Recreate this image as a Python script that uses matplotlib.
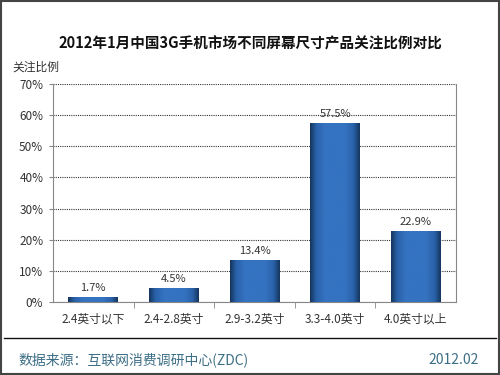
import numpy as np
import matplotlib
matplotlib.use('Agg')
import matplotlib.pyplot as plt
from matplotlib.colors import LinearSegmentedColormap
from matplotlib.patches import Rectangle
from matplotlib.lines import Line2D

plt.rcParams['font.family'] = ['Noto Sans CJK SC', 'DejaVu Sans']

# data
categories = ['2.4英寸以下', '2.4-2.8英寸', '2.9-3.2英寸', '3.3-4.0英寸', '4.0英寸以上']
values = [1.7, 4.5, 13.4, 57.5, 22.9]
labels = ['1.7%', '4.5%', '13.4%', '57.5%', '22.9%']
yticks = [0, 10, 20, 30, 40, 50, 60, 70]

title = '2012年1月中国3G手机市场不同屏幕尺寸产品关注比例对比'
source = '数据来源：互联网消费调研中心(ZDC)'
date = '2012.02'

fig = plt.figure(figsize=(5, 3.75), dpi=100)
ax = fig.add_axes([0.106, 0.195, 0.806, 0.581])

x = np.arange(len(categories))
bars = ax.bar(x, values, width=0.62, color='#2f68b4', zorder=2)

# horizontal gradient on each bar (dark edges, mostly flat centre)
cmap = LinearSegmentedColormap.from_list(
    'bar', [(0, '#15365f'), (0.12, '#2a62aa'), (0.3, '#3573c1'), (0.7, '#3573c1'),
            (0.88, '#2a62aa'), (1, '#15365f')])
grad = np.linspace(0, 1, 64).reshape(1, -1)
for b in bars:
    x0, y0 = b.get_x(), b.get_y()
    w, h = b.get_width(), b.get_height()
    im = ax.imshow(grad, cmap=cmap, aspect='auto', extent=(x0, x0 + w, y0, y0 + h),
                   zorder=3, interpolation='bicubic')
    im.set_clip_path(b)

for xi, v, lab in zip(x, values, labels):
    ax.text(xi, v + 1.2, lab, ha='center', va='bottom', fontsize=8, color='#333333')

ax.set_xlim(-0.5, len(categories) - 0.5)
ax.set_ylim(0, 70)
ax.set_yticks(yticks)
ax.set_yticklabels([f'{t}%' for t in yticks], fontsize=8.5, color='#333333')
ax.set_xticks(x)
ax.set_xticklabels(categories, fontsize=8.5, color='#333333')
ax.tick_params(axis='x', length=0, pad=8)
ax.set_xticks(np.arange(0.5, len(categories) - 0.5, 1), minor=True)
ax.tick_params(axis='x', which='minor', length=4, color='#888888')
ax.tick_params(axis='y', length=3, color='#888888', pad=4)

ax.grid(axis='y', linestyle=(0, (1, 1)), color='#333333', linewidth=0.8, zorder=1)
for s in ['left', 'right', 'bottom']:
    ax.spines[s].set_color('#888888')
    ax.spines[s].set_linewidth(0.8)
ax.spines['top'].set_visible(False)

fig.text(0.5, 0.885, title, ha='center', va='center', fontsize=10.5, fontweight='bold', color='#111111')
fig.text(0.024, 0.822, '关注比例', ha='left', va='center', fontsize=8.5, color='#333333')

# footer
fig.add_artist(Line2D([0.008, 0.992], [0.099, 0.099], color='#111111', linewidth=1.0))
fig.text(0.036, 0.04, source, ha='left', va='center', fontsize=10, color='#3c6e86')
fig.text(0.958, 0.04, date, ha='right', va='center', fontsize=10, color='#3c6e86')

# outer frame
fig.add_artist(Rectangle((0.002, 0.003), 0.996, 0.994, transform=fig.transFigure,
                         fill=False, edgecolor='#444444', linewidth=1.5))

fig.savefig('out.png', dpi=100)
